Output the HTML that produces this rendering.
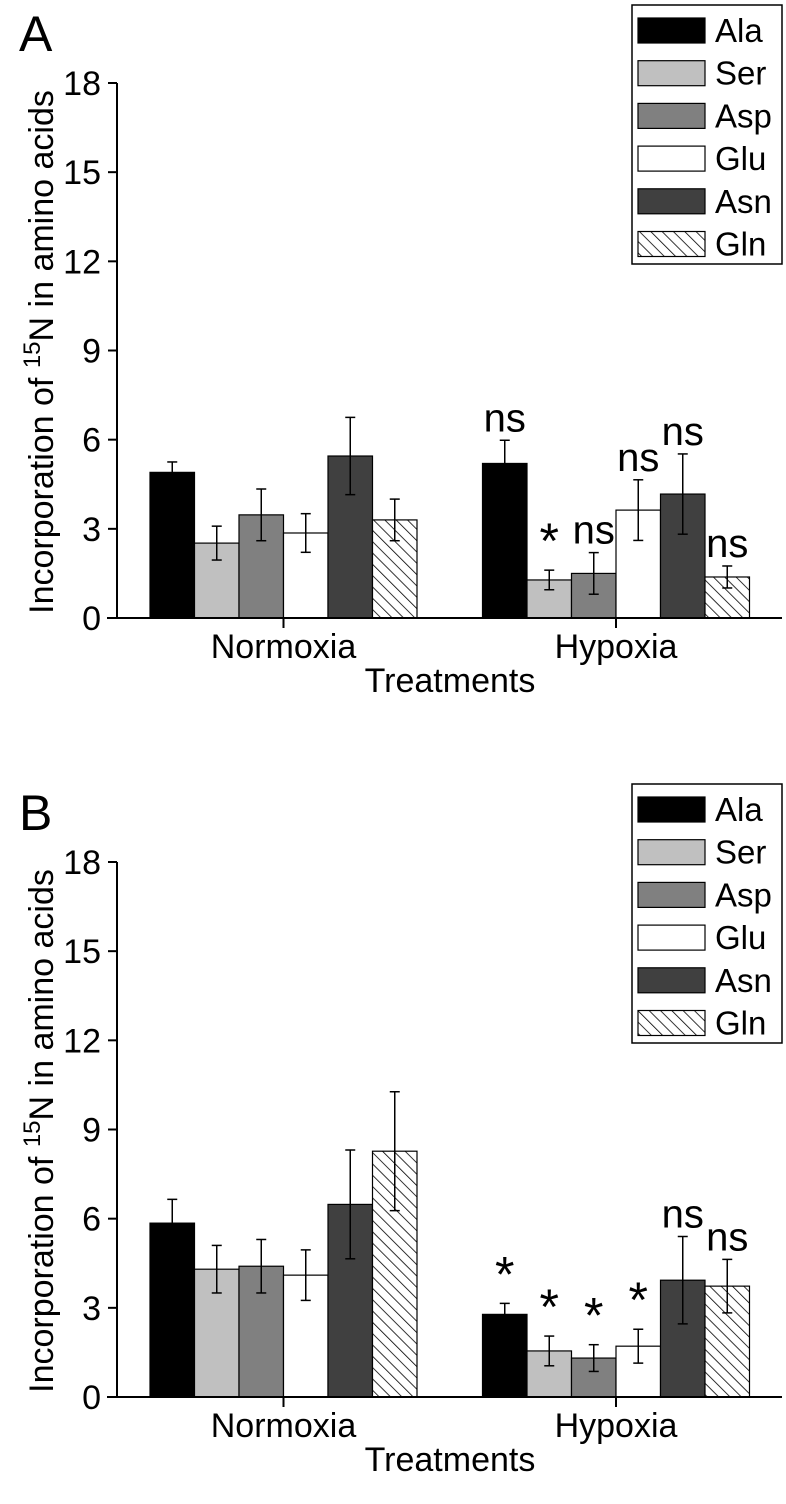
<!DOCTYPE html>
<html><head><meta charset="utf-8"><style>
html,body{margin:0;padding:0;background:#fff;}
svg{display:block;font-family:"Liberation Sans",Arial,sans-serif;}
</style></head><body>
<svg id="fig" width="786" height="1504" viewBox="0 0 786 1504" xmlns="http://www.w3.org/2000/svg">
<defs>
<pattern id="hatch" patternUnits="userSpaceOnUse" width="8" height="8" patternTransform="rotate(-45)">
<rect width="8" height="8" fill="#fff"/>
<line x1="0" y1="0" x2="0" y2="8" stroke="#000" stroke-width="1.6"/>
</pattern>
</defs>
</svg>
<script>
const aminoAcids = ["Ala","Ser","Asp","Glu","Asn","Gln"];
const treatments = ["Normoxia","Hypoxia"];
const yTicks = [0,3,6,9,12,15,18];
const panelAMeans = [[4.9,2.52,3.47,2.86,5.45,3.3],[5.2,1.28,1.5,3.63,4.17,1.38]];
const panelAErrors = [[0.35,0.57,0.87,0.65,1.3,0.7],[0.78,0.33,0.7,1.02,1.35,0.37]];
const panelALabels = [["","","","","",""],["ns","*","ns","ns","ns","ns"]];
const panelBMeans = [[5.85,4.3,4.4,4.1,6.48,8.27],[2.78,1.55,1.31,1.71,3.93,3.73]];
const panelBErrors = [[0.8,0.8,0.9,0.85,1.83,2.0],[0.37,0.5,0.45,0.57,1.47,0.9]];
const panelBLabels = [["","","","","",""],["*","*","*","*","ns","ns"]];

const fills = ["#000","#c0c0c0","#808080","#fff","#404040","url(#hatch)"];
const svg = document.getElementById('fig');
const NS = "http://www.w3.org/2000/svg";
function mk(tag, attrs, parent){const e=document.createElementNS(NS,tag);for(const k in attrs)e.setAttribute(k,attrs[k]);(parent||svg).appendChild(e);return e;}

function drawPanel(letter, off, means, errs, labels){
  const g = mk('g',{});
  
  
  const y0 = 618+off, unit = (618-83)/18;
  const yS = v => y0 - v*unit;
  const centers = [283.5,616];
  const bw = 44.5;
  const xS = (gi,si) => centers[gi] - 3*bw + si*bw;
  const lt = mk('text',{x:19,y:51+off,'font-size':50},g); lt.textContent=letter;
   
  treatments.forEach((t,gi)=>{
    aminoAcids.forEach((a,si)=>{
      const v = means[gi][si];
      const r = mk('rect',{x:xS(gi,si),y:yS(v),width:bw,height:y0-yS(v),fill:fills[si],stroke:'#000','stroke-width':1.2},g);
      
      
    });
  });
  treatments.forEach((t,gi)=>{
    aminoAcids.forEach((a,si)=>{
      const v=means[gi][si], e=errs[gi][si], cx=xS(gi,si)+bw/2;
      const eg = mk('g',{stroke:'#000','stroke-width':1.5},g);
      
      
      mk('line',{x1:cx,x2:cx,y1:yS(v+e),y2:yS(v-e)},eg);
      mk('line',{x1:cx-5,x2:cx+5,y1:yS(v+e),y2:yS(v+e)},eg);
      mk('line',{x1:cx-5,x2:cx+5,y1:yS(v-e),y2:yS(v-e)},eg);
      const lab = labels[gi][si];
      if(lab){
        const top = yS(v+e);
        const tx = mk('text',{x:cx,y:lab==='*'?top-12:top-9,'font-size':lab==='*'?50:40,'text-anchor':'middle'},g);
        tx.textContent=lab;
        
        
      }
    });
  });
  const ax = mk('g',{stroke:'#000','stroke-width':2},g);
   
  mk('line',{x1:117,x2:117,y1:yS(18),y2:y0},ax);
  mk('line',{x1:107,x2:782,y1:y0,y2:y0},ax);
  yTicks.forEach(v=>{
    mk('line',{x1:108,x2:117,y1:yS(v),y2:yS(v)},ax);
    const t = mk('text',{x:101,y:yS(v)+12,'font-size':34,'text-anchor':'end',stroke:'none',fill:'#000'},g);
    t.textContent=v;
     
  });
  treatments.forEach((t,gi)=>{
    mk('line',{x1:centers[gi],x2:centers[gi],y1:y0,y2:y0+10},ax);
    const tx = mk('text',{x:centers[gi],y:y0+40,'font-size':34,'text-anchor':'middle'},g);
    tx.textContent=t;
     
  });
  const xt = mk('text',{x:450,y:y0+74,'font-size':34,'text-anchor':'middle'},g);
  xt.textContent='Treatments';
   
  const yt = mk('text',{x:0,y:0,'font-size':34,'text-anchor':'middle',transform:`translate(53,${352+off}) rotate(-90)`},g);
  yt.innerHTML='Incorporation of <tspan font-size="24" dy="-13">15</tspan><tspan dy="13">N in amino acids</tspan>';
   
  const lg = mk('g',{},g);
   
  mk('rect',{x:632,y:5+off,width:150,height:259,fill:'#fff',stroke:'#000','stroke-width':1.5},lg);
  aminoAcids.forEach((a,si)=>{
    const ry = 18+off+si*42.7;
    const le = mk('g',{},lg);
     
    mk('rect',{x:638,y:ry,width:67,height:25,fill:fills[si],stroke:'#000','stroke-width':1.2},le);
    const t = mk('text',{x:715,y:ry+24,'font-size':33},le); t.textContent=a;
  });
}
drawPanel('A',0,panelAMeans,panelAErrors,panelALabels);
drawPanel('B',779,panelBMeans,panelBErrors,panelBLabels);
</script>
</body></html>
